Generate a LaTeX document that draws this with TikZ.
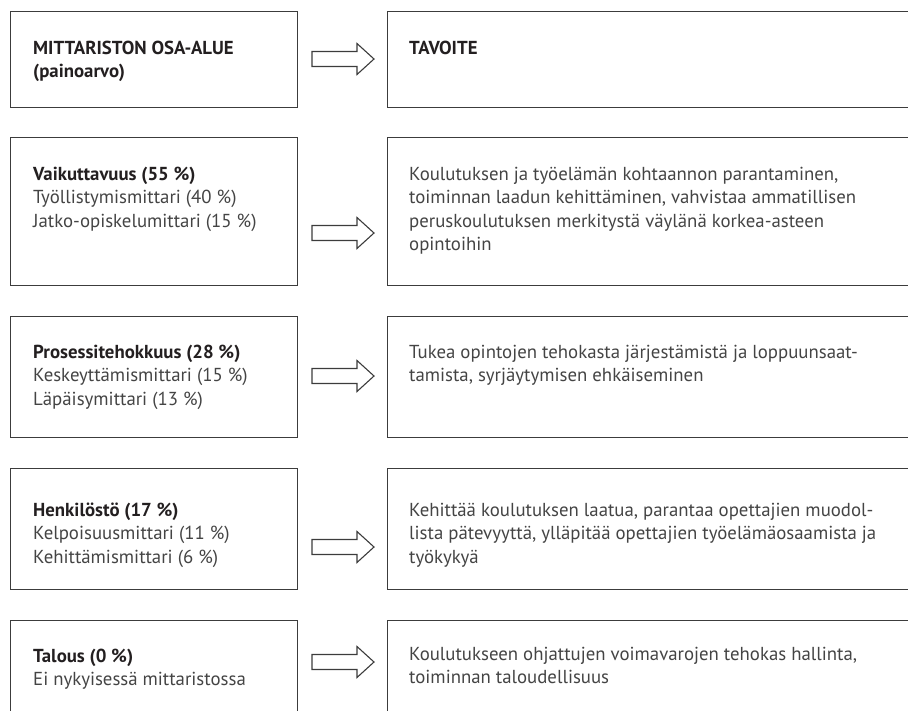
\documentclass[tikz,border=0pt]{standalone}
\usepackage{fontspec}
\setmainfont{PT Sans}
\usetikzlibrary{calc}
\definecolor{linec}{HTML}{3C3C3C}
\definecolor{txtc}{HTML}{444444}
\definecolor{boldc}{HTML}{231F20}
\begin{document}
\begin{tikzpicture}[x=1pt,y=-1pt,
  box/.style={draw=linec,line width=1.3pt,inner sep=0pt,anchor=north west},
  lt/.style={anchor=base west,inner sep=0pt,align=left,text=txtc,
    font=\fontsize{18.8}{23.5}\selectfont},
  barrow/.style={draw=linec,line width=1.1pt,fill=white,line join=miter}]
\useasboundingbox (0,0) rectangle (908,710);
\clip (0,0) rectangle (908,710);
% boxes
\node[box,minimum width=287pt,minimum height=96pt]  (L1) at (10,11) {};
\node[box,minimum width=560pt,minimum height=96pt]  (R1) at (387,11) {};
\node[box,minimum width=287pt,minimum height=148pt] (L2) at (10,137) {};
\node[box,minimum width=560pt,minimum height=148pt] (R2) at (387,137) {};
\node[box,minimum width=287pt,minimum height=121pt] (L3) at (10,316) {};
\node[box,minimum width=560pt,minimum height=121pt] (R3) at (387,316) {};
\node[box,minimum width=287pt,minimum height=121pt] (L4) at (10,468) {};
\node[box,minimum width=560pt,minimum height=121pt] (R4) at (387,468) {};
\node[box,minimum width=287pt,minimum height=150pt] (L5) at (10,620) {};
\node[box,minimum width=560pt,minimum height=150pt] (R5) at (387,620) {};
% texts (base anchor = baseline of the last line)
\node[lt] (tL1) at (33,77.5) {\textcolor{boldc}{\bfseries MITTARISTON OSA-ALUE}\\\textcolor{boldc}{\bfseries (painoarvo)}};
\node[lt] (tR1) at (409,54) {\textcolor{boldc}{\bfseries TAVOITE}};
\node[lt] (tL2) at (33,227) {\textcolor{boldc}{\bfseries Vaikuttavuus (55 \%)}\\Työllistymismittari (40 \%)\\Jatko-opiskelumittari (15 \%)};
\node[lt] (tR2) at (409,250.5) {Koulutuksen ja työelämän kohtaannon parantaminen,\\toiminnan laadun kehittäminen, vahvistaa ammatillisen\\peruskoulutuksen merkitystä väylänä korkea-asteen\\opintoihin};
\node[lt] (tL3) at (33,405) {\textcolor{boldc}{\bfseries Prosessitehokkuus (28 \%)}\\Keskeyttämismittari (15 \%)\\Läpäisymittari (13 \%)};
\node[lt] (tR3) at (409,381.5) {Tukea opintojen tehokasta järjestämistä ja loppuunsaat-\\tamista, syrjäytymisen ehkäiseminen};
\node[lt] (tL4) at (33,563) {\textcolor{boldc}{\bfseries Henkilöstö (17 \%)}\\Kelpoisuusmittari (11 \%)\\Kehittämismittari (6 \%)};
\node[lt] (tR4) at (409,563) {Kehittää koulutuksen laatua, parantaa opettajien muodol-\\lista pätevyyttä, ylläpitää opettajien työelämäosaamista ja\\työkykyä};
\node[lt] (tL5) at (33,685.5) {\textcolor{boldc}{\bfseries Talous (0 \%)}\\Ei nykyisessä mittaristossa};
\node[lt] (tR5) at (409,683.5) {Koulutukseen ohjattujen voimavarojen tehokas hallinta,\\toiminnan taloudellisuus};
% block arrows
\foreach \k/\yc in {1/59,2/233,3/376,4/547,5/662}{
  \coordinate (A\k) at (312,\yc);
  \draw[barrow] ($(A\k)+(0,-7.5)$) -- ++(45,0) -- ++(0,-8) -- ++(17,15.5)
     -- ++(-17,15.5) -- ++(0,-8) -- ++(-45,0) -- cycle;
}
\end{tikzpicture}
\end{document}
